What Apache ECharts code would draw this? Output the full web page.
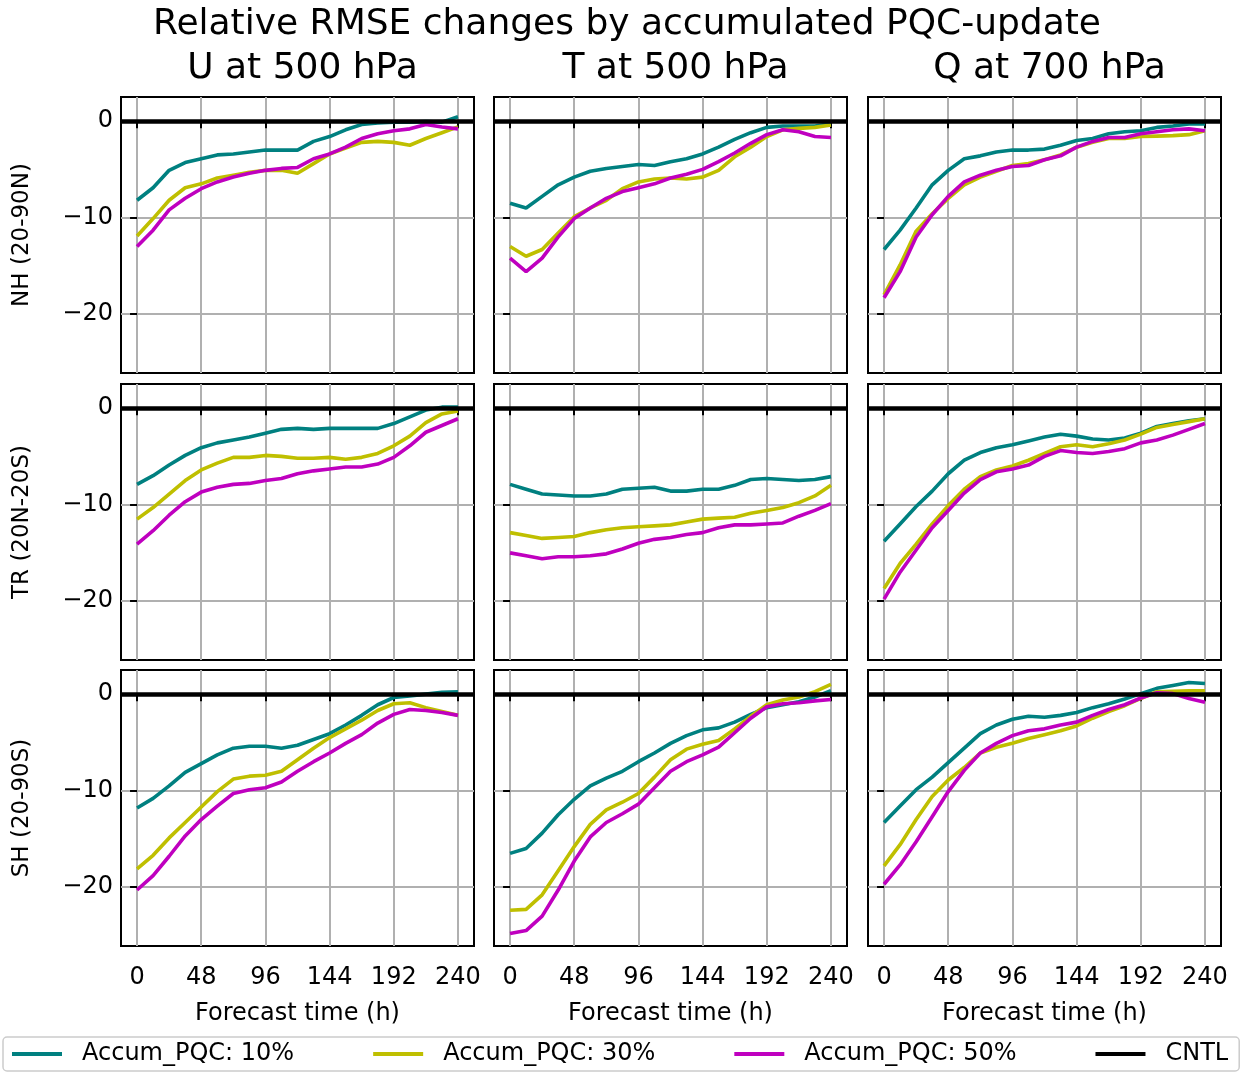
<!DOCTYPE html>
<html>
<head>
<meta charset="utf-8">
<script src="https://cdn.jsdelivr.net/npm/echarts@6/dist/echarts.min.js"></script>
<style>
  html, body { margin: 0; padding: 0; background: #fff; }
  #chart-container { width: 1241px; height: 1074px; }
</style>
</head>
<body>
<div id="chart-container"></div>
<script>
var dom = document.getElementById('chart-container');
var myChart = echarts.init(dom, null, { renderer: 'canvas' });

// forecast hours and ticks
const hours = [0, 12, 24, 36, 48, 60, 72, 84, 96, 108, 120, 132, 144, 156, 168, 180, 192, 204, 216, 228, 240];
const xTicks = [0, 48, 96, 144, 192, 240];
const yTicks = [-20, -10, 0];

const rowNames = ['NH (20-90N)', 'TR (20N-20S)', 'SH (20-90S)'];
const colTitles = ['U at 500 hPa', 'T at 500 hPa', 'Q at 700 hPa'];
const seriesNames = ['Accum_PQC: 10%', 'Accum_PQC: 30%', 'Accum_PQC: 50%'];
const cntlName = 'CNTL';

// NH
const uNH10 = [-8.2, -6.9, -5.1, -4.3, -3.9, -3.5, -3.4, -3.2, -3.0, -3.0, -3.0, -2.1, -1.6, -0.9, -0.35, -0.2, -0.1, -0.1, -0.05, -0.1, 0.45];
const uNH30 = [-11.9, -10.1, -8.2, -6.9, -6.5, -5.9, -5.6, -5.3, -5.1, -5.1, -5.4, -4.4, -3.4, -2.8, -2.2, -2.1, -2.2, -2.5, -1.8, -1.2, -0.6];
const uNH50 = [-13.0, -11.3, -9.2, -8.0, -7.0, -6.3, -5.8, -5.4, -5.1, -4.9, -4.8, -3.9, -3.4, -2.7, -1.8, -1.3, -1.0, -0.8, -0.35, -0.6, -0.8];
const tNH10 = [-8.5, -9.0, -7.8, -6.6, -5.8, -5.2, -4.9, -4.7, -4.5, -4.6, -4.2, -3.9, -3.4, -2.7, -1.9, -1.2, -0.65, -0.5, -0.5, -0.5, -0.25];
const tNH30 = [-13.0, -14.0, -13.3, -11.6, -9.9, -9.0, -8.2, -7.0, -6.3, -6.0, -5.9, -6.0, -5.8, -5.1, -3.7, -2.7, -1.6, -0.9, -0.75, -0.65, -0.4];
const tNH50 = [-14.2, -15.6, -14.2, -12.0, -10.1, -9.0, -8.0, -7.3, -6.9, -6.5, -5.9, -5.5, -5.0, -4.2, -3.3, -2.3, -1.4, -0.9, -1.1, -1.6, -1.7];
const qNH10 = [-13.3, -11.3, -9.0, -6.6, -5.1, -3.9, -3.6, -3.2, -3.0, -3.0, -2.9, -2.5, -2.0, -1.8, -1.3, -1.1, -1.0, -0.65, -0.5, -0.3, -0.3];
const qNH30 = [-18.0, -14.9, -11.4, -9.6, -8.0, -6.6, -5.8, -5.2, -4.6, -4.4, -4.0, -3.5, -2.7, -2.2, -1.8, -1.8, -1.6, -1.55, -1.5, -1.4, -1.0];
const qNH50 = [-18.3, -15.6, -12.0, -9.7, -7.8, -6.3, -5.6, -5.1, -4.7, -4.6, -4.0, -3.6, -2.7, -2.1, -1.7, -1.7, -1.3, -1.1, -0.9, -0.8, -1.0];

// TR
const uTR10 = [-7.9, -7.0, -5.9, -4.9, -4.1, -3.6, -3.3, -3.0, -2.6, -2.2, -2.1, -2.2, -2.1, -2.1, -2.1, -2.1, -1.6, -0.9, -0.2, 0.1, 0.1];
const uTR30 = [-11.5, -10.3, -8.9, -7.5, -6.4, -5.7, -5.1, -5.1, -4.9, -5.0, -5.2, -5.2, -5.1, -5.3, -5.1, -4.7, -3.9, -2.9, -1.5, -0.6, -0.3];
const uTR50 = [-14.1, -12.7, -11.1, -9.7, -8.7, -8.2, -7.9, -7.8, -7.5, -7.3, -6.8, -6.5, -6.3, -6.1, -6.1, -5.8, -5.1, -3.9, -2.5, -1.8, -1.1];
const tTR10 = [-7.9, -8.4, -8.9, -9.0, -9.1, -9.1, -8.9, -8.4, -8.3, -8.2, -8.6, -8.6, -8.4, -8.4, -8.0, -7.4, -7.3, -7.4, -7.5, -7.4, -7.1];
const tTR30 = [-12.9, -13.2, -13.5, -13.4, -13.3, -12.9, -12.6, -12.4, -12.3, -12.2, -12.1, -11.8, -11.5, -11.4, -11.3, -10.9, -10.6, -10.3, -9.8, -9.1, -8.0];
const tTR50 = [-15.0, -15.3, -15.6, -15.4, -15.4, -15.3, -15.1, -14.6, -14.0, -13.6, -13.4, -13.1, -12.9, -12.4, -12.1, -12.1, -12.0, -11.9, -11.2, -10.6, -9.9];
const qTR10 = [-13.8, -12.0, -10.2, -8.6, -6.8, -5.4, -4.6, -4.1, -3.8, -3.4, -3.0, -2.7, -2.9, -3.2, -3.3, -3.1, -2.6, -1.9, -1.6, -1.3, -1.1];
const qTR30 = [-18.7, -16.1, -14.1, -12.0, -10.1, -8.4, -7.1, -6.4, -6.0, -5.4, -4.7, -4.0, -3.8, -4.0, -3.7, -3.3, -2.7, -2.0, -1.7, -1.4, -1.1];
const qTR50 = [-19.8, -17.0, -14.7, -12.4, -10.6, -8.8, -7.4, -6.6, -6.3, -5.9, -5.0, -4.4, -4.6, -4.7, -4.5, -4.2, -3.6, -3.3, -2.8, -2.2, -1.6];

// SH
const uSH10 = [-11.8, -10.8, -9.5, -8.1, -7.2, -6.3, -5.6, -5.4, -5.4, -5.6, -5.3, -4.7, -4.1, -3.2, -2.2, -1.1, -0.35, -0.2, 0.0, 0.2, 0.25];
const uSH30 = [-18.1, -16.7, -14.9, -13.3, -11.7, -10.1, -8.8, -8.5, -8.4, -8.0, -6.8, -5.6, -4.5, -3.6, -2.7, -1.7, -1.0, -0.9, -1.4, -1.8, -2.2];
const uSH50 = [-20.3, -18.8, -16.8, -14.7, -13.0, -11.6, -10.3, -9.9, -9.7, -9.1, -8.0, -7.0, -6.1, -5.1, -4.2, -3.0, -2.1, -1.6, -1.7, -1.9, -2.2];
const tSH10 = [-16.5, -16.0, -14.4, -12.5, -10.9, -9.5, -8.7, -8.0, -7.0, -6.1, -5.1, -4.3, -3.7, -3.5, -2.9, -2.1, -1.4, -1.1, -0.8, -0.3, 0.35];
const tSH30 = [-22.4, -22.3, -20.8, -18.3, -15.8, -13.5, -12.0, -11.2, -10.3, -8.6, -6.8, -5.7, -5.2, -4.8, -3.6, -2.3, -1.1, -0.6, -0.3, 0.25, 1.0];
const tSH50 = [-24.8, -24.5, -23.0, -20.3, -17.3, -14.8, -13.3, -12.4, -11.4, -9.7, -8.0, -7.0, -6.3, -5.5, -4.0, -2.5, -1.3, -1.0, -0.9, -0.7, -0.55];
const qSH10 = [-13.3, -11.6, -9.9, -8.6, -7.1, -5.6, -4.1, -3.2, -2.6, -2.3, -2.4, -2.2, -1.9, -1.4, -1.0, -0.5, 0.05, 0.6, 0.9, 1.2, 1.1];
const qSH30 = [-17.8, -15.6, -13.0, -10.6, -8.9, -7.6, -6.1, -5.5, -5.1, -4.6, -4.2, -3.8, -3.3, -2.5, -1.8, -1.2, -0.45, 0.25, 0.3, 0.35, 0.35];
const qSH50 = [-19.7, -17.7, -15.3, -12.7, -10.1, -7.9, -6.1, -5.1, -4.3, -3.8, -3.6, -3.2, -2.9, -2.2, -1.6, -1.1, -0.4, 0.15, 0.05, -0.45, -0.85];

const panels = [
  [[uNH10, uNH30, uNH50], [tNH10, tNH30, tNH50], [qNH10, qNH30, qNH50]],
  [[uTR10, uTR30, uTR50], [tTR10, tTR30, tTR50], [qTR10, qTR30, qTR50]],
  [[uSH10, uSH30, uSH50], [tSH10, tSH30, tSH50], [qSH10, qSH30, qSH50]]
];

const lineColors = ['#008080', '#bfbf00', '#bf00bf'];
const FONT = 'DejaVu Sans';

// layout
const colLeft = [121, 494, 868];
const rowTop = [97, 384, 670];
const gridW = 353;
const gridH = 276;

function fmtMinus(v) {
  return v < 0 ? '\u2212' + Math.abs(v) : String(v);
}

var grids = [], xAxes = [], yAxes = [], series = [];
var titles = [{
  text: 'Relative RMSE changes by accumulated PQC-update',
  left: 622, top: 2, textAlign: 'center',
  textStyle: { fontFamily: FONT, fontSize: 36, fontWeight: 'normal', color: '#000' }
}];
colTitles.forEach((t, c) => {
  titles.push({
    text: t,
    left: colLeft[c] + gridW / 2, top: 46, textAlign: 'center',
    textStyle: { fontFamily: FONT, fontSize: 36, fontWeight: 'normal', color: '#000' }
  });
});

for (let r = 0; r < 3; r++) {
  for (let c = 0; c < 3; c++) {
    const idx = r * 3 + c;
    grids.push({
      left: colLeft[c], top: rowTop[r], width: gridW, height: gridH,
      show: true, borderColor: '#000', borderWidth: 2, backgroundColor: '#fff'
    });
    xAxes.push({
      type: 'value', gridIndex: idx, min: -12, max: 252,
      axisLine: { show: false },
      axisTick: { show: true, inside: false, length: 7, customValues: xTicks, lineStyle: { color: '#000', width: 2 } },
      axisLabel: {
        show: r === 2, customValues: xTicks, margin: 20,
        fontFamily: FONT, fontSize: 24, color: '#000'
      },
      splitLine: { show: true, lineStyle: { color: '#b0b0b0', width: 2 } },
      name: r === 2 ? 'Forecast time (h)' : '',
      nameLocation: 'middle', nameGap: 56,
      nameTextStyle: { fontFamily: FONT, fontSize: 24, color: '#000' }
    });
    yAxes.push({
      type: 'value', gridIndex: idx, min: -26.1, max: 2.5,
      axisLine: { show: false },
      axisTick: { show: true, inside: false, length: 7, customValues: yTicks, lineStyle: { color: '#000', width: 2 } },
      axisLabel: {
        show: c === 0, customValues: yTicks, margin: 8,
        fontFamily: FONT, fontSize: 24, color: '#000',
        formatter: fmtMinus
      },
      splitLine: { show: true, lineStyle: { color: '#b0b0b0', width: 2 } },
      name: c === 0 ? rowNames[r] : '',
      nameLocation: 'middle', nameGap: 87, nameRotate: 90,
      nameTextStyle: { fontFamily: FONT, fontSize: 23, color: '#000' }
    });
    panels[r][c].forEach((vals, k) => {
      series.push({
        name: seriesNames[k], type: 'line',
        xAxisIndex: idx, yAxisIndex: idx,
        data: hours.map((h, i) => [h, vals[i]]),
        showSymbol: false, symbol: 'none', smooth: false,
        lineStyle: { color: lineColors[k], width: 3.6 },
        itemStyle: { color: lineColors[k] },
        z: 3
      });
    });
    // control run reference line at zero
    series.push({
      name: cntlName, type: 'line',
      xAxisIndex: idx, yAxisIndex: idx,
      data: [],
      symbol: 'none',
      lineStyle: { color: '#000', width: 4.5 },
      itemStyle: { color: '#000' },
      markLine: {
        silent: true, symbol: 'none', label: { show: false },
        lineStyle: { color: '#000', width: 4.5, type: 'solid' },
        data: [{ yAxis: 0 }]
      },
      z: 4
    });
  }
}

var option = {
  animation: false,
  backgroundColor: '#fff',
  title: titles,
  legend: {
    left: 3, top: 1037, width: 1236,
    padding: [5, 11, 5, 9],
    itemGap: 79,
    itemWidth: 50, itemHeight: 4,
    borderColor: '#cccccc', borderWidth: 1.5, borderRadius: 4,
    textStyle: { fontFamily: FONT, fontSize: 24, color: '#000', padding: [0, 0, 0, 15] },
    data: seriesNames.concat([cntlName]).map(n => ({ name: n, icon: 'rect' }))
  },
  grid: grids,
  xAxis: xAxes,
  yAxis: yAxes,
  series: series
};

myChart.setOption(option);
window.addEventListener('resize', myChart.resize);
</script>
</body>
</html>
